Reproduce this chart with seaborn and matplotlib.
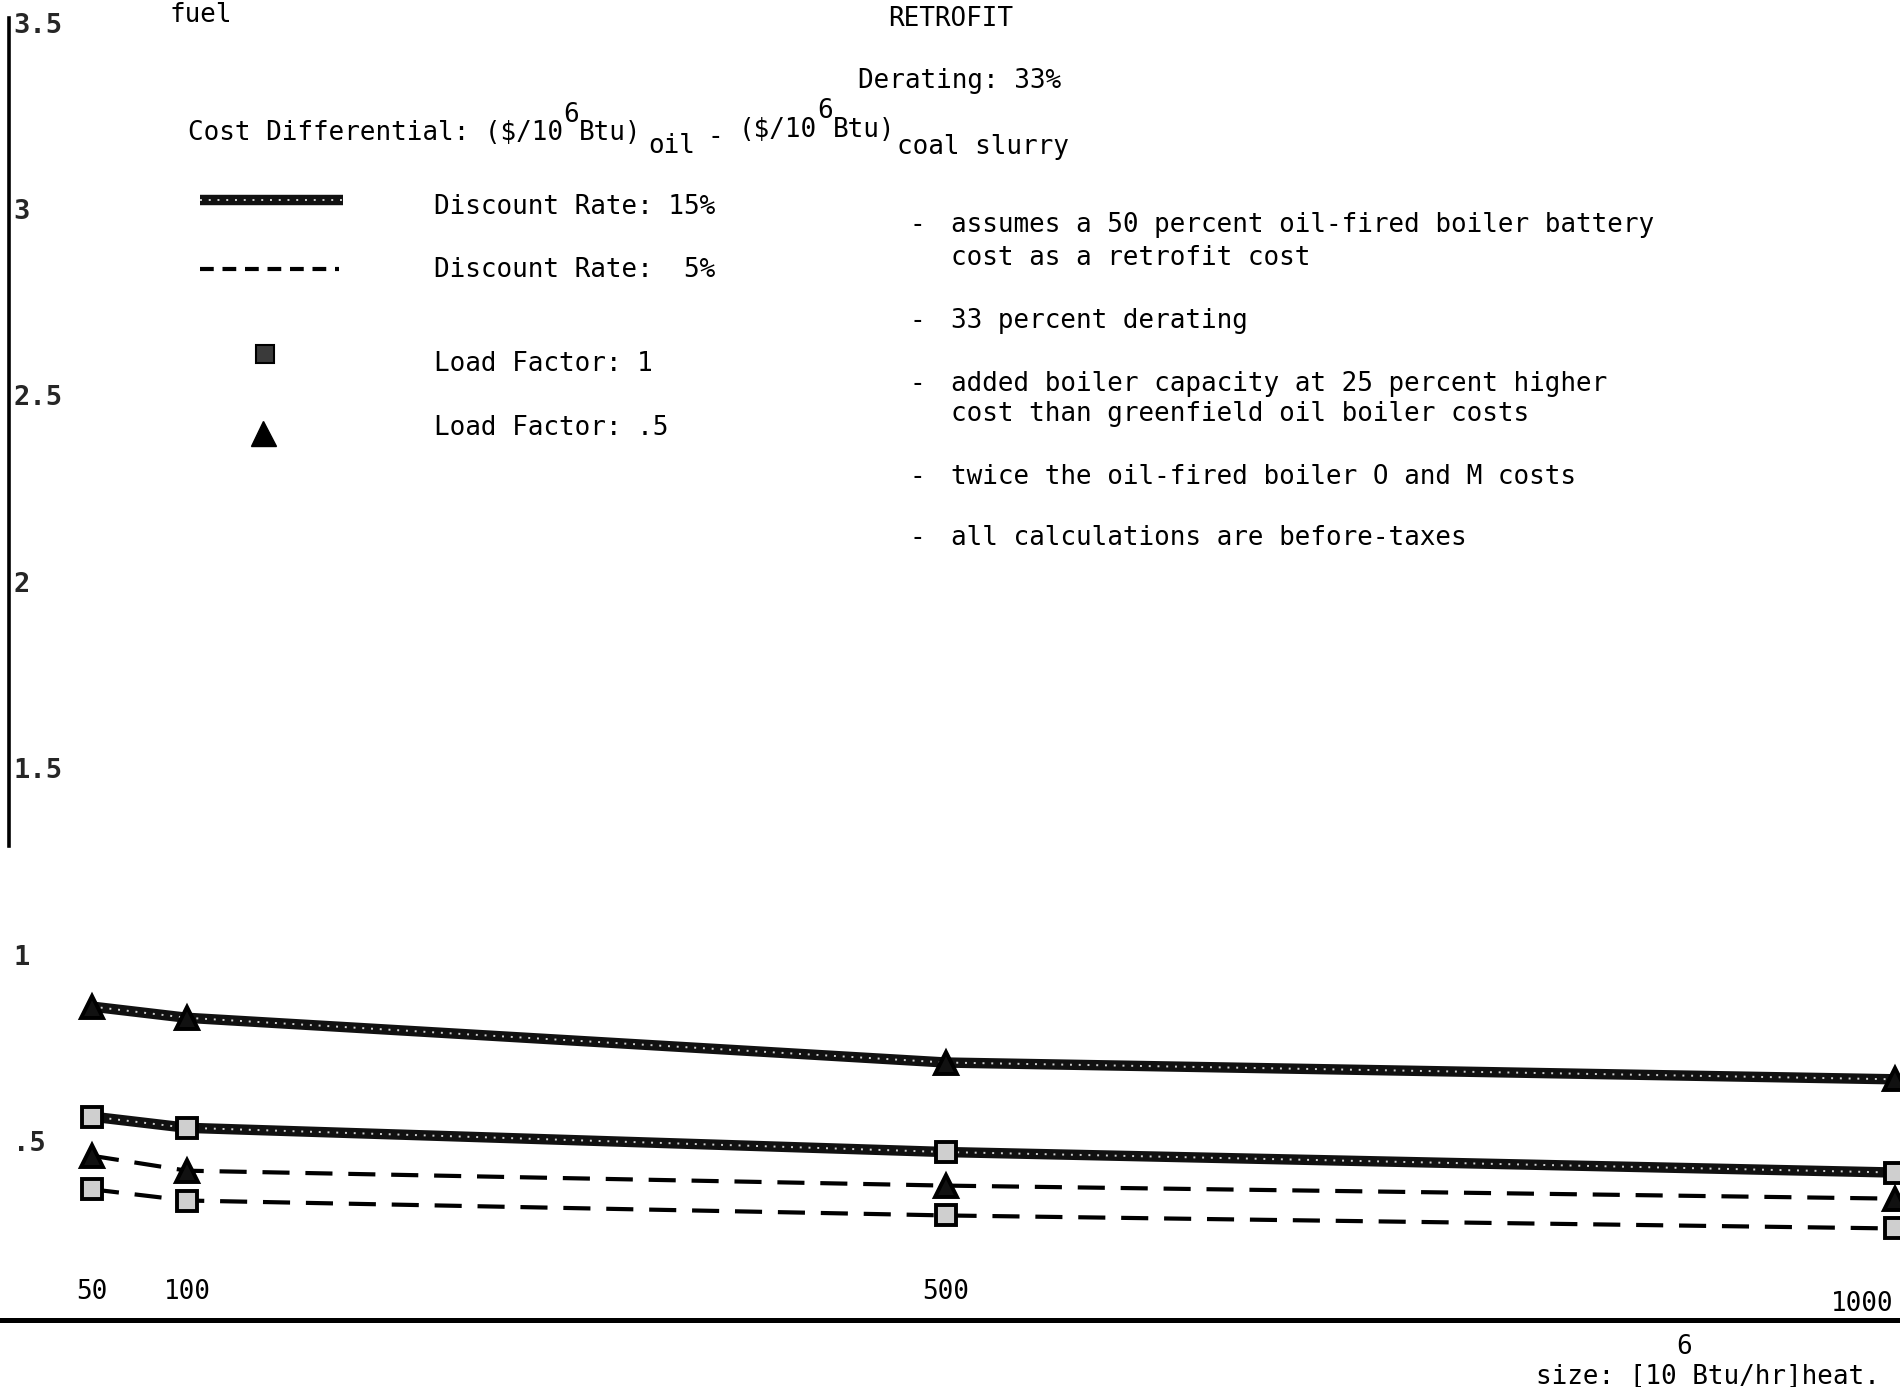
import numpy as np
import pandas as pd
import seaborn as sns
import matplotlib.pyplot as plt
import matplotlib.transforms as mtransforms
from matplotlib.lines import Line2D

# ---- data -------------------------------------------------------------
sizes = [50, 100, 500, 1000]                  # boiler size, 10^6 Btu/hr heat
dr15_lf05 = [0.84, 0.81, 0.69, 0.645]         # discount 15%, load factor .5
dr15_lf1 = [0.545, 0.515, 0.45, 0.395]        # discount 15%, load factor 1
dr5_lf05 = [0.44, 0.40, 0.36, 0.325]          # discount 5%,  load factor .5
dr5_lf1 = [0.35, 0.32, 0.28, 0.245]           # discount 5%,  load factor 1

ytick_values = [0.5, 1, 1.5, 2, 2.5, 3, 3.5]
ytick_labels = [".5", "1", "1.5", "2", "2.5", "3", "3.5"]
xtick_values = [50, 100, 500, 1000]
xtick_labels = ["50", "100", "500", "1000"]

legend_labels = ["Discount Rate: 15%", "Discount Rate:  5%",
                 "Load Factor: 1", "Load Factor: .5"]
notes = [
    ["assumes a 50 percent oil-fired boiler battery", "cost as a retrofit cost"],
    ["33 percent derating"],
    ["added boiler capacity at 25 percent higher", "cost than greenfield oil boiler costs"],
    ["twice the oil-fired boiler O and M costs"],
    ["all calculations are before-taxes"],
]

frames = []
for vals, rate, lf in [(dr15_lf05, "15%", ".5"), (dr15_lf1, "15%", "1"),
                       (dr5_lf05, "5%", ".5"), (dr5_lf1, "5%", "1")]:
    frames.append(pd.DataFrame({"size": sizes, "diff": vals,
                                "rate": rate, "lf": lf}))
df = pd.concat(frames, ignore_index=True)

# ---- style ------------------------------------------------------------
sns.set_theme(style="white")
FS = 18.7
plt.rcParams["font.family"] = ["DejaVu Sans Mono", "DejaVu Sans"]
plt.rcParams["font.size"] = FS
plt.rcParams["text.color"] = "black"

W, H = 1900, 1387
fig = plt.figure(figsize=(W / 100, H / 100), dpi=100)
ax = fig.add_axes([0, 0, 1, 1])
ax.set_xlim(1.53, 1002.6)
ax.set_ylim(-0.18, 3.539)
ax.set_facecolor("white")


def px(x, y):
    return x / W, 1 - y / H


# ---- series -----------------------------------------------------------
speckle = dict(color="white", lw=1.4, linestyle=(0, (1, 3.5)), alpha=0.8, zorder=4)
for (rate, lf), g in df.groupby(["rate", "lf"]):
    marker = "^" if lf == ".5" else "s"
    ms = 16 if lf == ".5" else 14
    mfc = "#111111" if lf == ".5" else "#cfcfcf"
    if rate == "15%":
        sns.lineplot(data=g, x="size", y="diff", ax=ax, color="#111111",
                     lw=7.5, solid_capstyle="butt", zorder=3, legend=False)
        sns.lineplot(data=g, x="size", y="diff", ax=ax, legend=False, **speckle)
    else:
        sns.lineplot(data=g, x="size", y="diff", ax=ax, color="black",
                     lw=3, linestyle=(0, (6.5, 3.8)), zorder=3, legend=False)
    sns.lineplot(data=g, x="size", y="diff", ax=ax, color="black", lw=0,
                 marker=marker, markersize=ms, markerfacecolor=mfc,
                 markeredgecolor="black", markeredgewidth=2.8, zorder=5,
                 legend=False)

# ---- axes -------------------------------------------------------------
ax.grid(False)
ax.set_xlabel("")
ax.set_ylabel("")
for s in ["top", "right"]:
    ax.spines[s].set_visible(False)
ax.spines["left"].set_position(("data", 6.3))
ax.spines["left"].set_bounds(1.27, 3.49)
ax.spines["left"].set_linewidth(2.6)
ax.spines["left"].set_color("black")
ax.spines["bottom"].set_position(("data", 0))
ax.spines["bottom"].set_linewidth(3.6)
ax.spines["bottom"].set_color("black")

ax.set_yticks(ytick_values, ytick_labels)
ax.tick_params(axis="y", length=0, pad=-3, labelsize=19.5)
shift_down = mtransforms.ScaledTranslation(0, -0.08, fig.dpi_scale_trans)
for lbl in ax.get_yticklabels():
    lbl.set_ha("left")
    lbl.set_fontweight("bold")
    lbl.set_transform(lbl.get_transform() + shift_down)
ax.set_xticks([])

for v, lab in zip(xtick_values, xtick_labels):
    if v == xtick_values[-1]:
        ax.annotate(lab, (v, 0), xytext=(-1, 2), textcoords="offset points",
                    ha="right", va="bottom", fontsize=FS)
    else:
        ax.text(v, 0.075, lab, ha="center", va="center", fontsize=FS)

# ---- headings ---------------------------------------------------------
fig.text(*px(170, 15), "fuel", ha="left", va="center", fontsize=FS)
fig.text(*px(951, 19), "RETROFIT", ha="center", va="center", fontsize=FS)
fig.text(*px(960, 81), "Derating: 33%", ha="center", va="center", fontsize=FS)

cw = 0.602 * FS * 100 / 72
pieces = [("Cost Differential: ($/10", 188, 133),
          ("6", 188 + 24 * cw, 115),
          ("Btu)", 188 + 25 * cw, 133),
          ("oil", 648, 146),
          ("-", 707, 137),
          ("($/10", 739, 130),
          ("6", 739 + 5 * cw, 111),
          ("Btu)", 739 + 6 * cw, 130),
          ("coal slurry", 897, 147)]
for txt, x, y in pieces:
    fig.text(*px(x, y), txt, ha="left", va="center", fontsize=FS)

# ---- key --------------------------------------------------------------
fig.add_artist(Line2D(*zip(px(200, 200), px(343, 200)), color="#111111",
                      lw=7.5, solid_capstyle="butt", transform=fig.transFigure))
fig.add_artist(Line2D(*zip(px(200, 200), px(343, 200)),
                      transform=fig.transFigure, **speckle))
fig.add_artist(Line2D(*zip(px(200, 269), px(339, 269)), color="black",
                      lw=3, linestyle=(0, (3.3, 2.1)), transform=fig.transFigure))
fig.add_artist(Line2D([px(265, 354)[0]], [px(265, 354)[1]], marker="s",
                      ms=13, mfc="#3a3a3a", mec="black", mew=1.5, lw=0,
                      transform=fig.transFigure))
fig.add_artist(Line2D([px(263, 433)[0]], [px(263, 433)[1]], marker="^",
                      ms=18, mfc="black", mec="black", lw=0,
                      transform=fig.transFigure))
for lab, y in zip(legend_labels, [207, 270, 364, 428]):
    fig.text(*px(434, y), lab, ha="left", va="center", fontsize=FS)

# ---- notes ------------------------------------------------------------
note_y = [[225, 258], [321], [384, 414], [477], [538]]
for lines, ys in zip(notes, note_y):
    fig.text(*px(909, ys[0]), "-", ha="left", va="center", fontsize=FS)
    for line, y in zip(lines, ys):
        fig.text(*px(951, y), line, ha="left", va="center", fontsize=FS)

# ---- axis caption -----------------------------------------------------
fig.text(*px(1684, 1347), "6", ha="center", va="center", fontsize=FS)
fig.text(*px(1536, 1377), "size: [10 Btu/hr]heat.", ha="left", va="center",
         fontsize=FS)

fig.savefig("out.png", dpi=100, facecolor="white")
